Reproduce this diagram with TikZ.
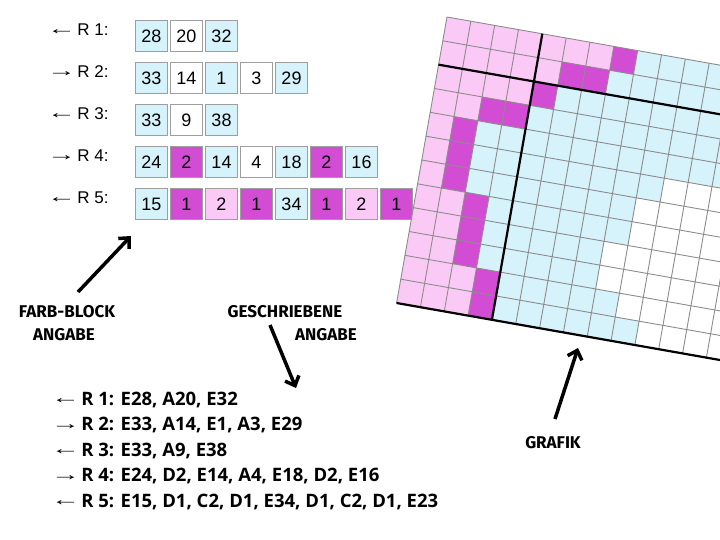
\documentclass[tikz,border=0pt]{standalone}
\usepackage{graphicx}
\usepackage{fontspec}
\setmainfont{Liberation Sans}
\newfontfamily\listfont{Open Sans}
\newfontfamily\handfont{Fira Sans}
\usetikzlibrary{positioning}
\usetikzlibrary{arrows.meta}
\definecolor{colA}{RGB}{255,255,255}
\definecolor{colC}{RGB}{251,201,246}
\definecolor{colD}{RGB}{211,76,212}
\definecolor{colE}{RGB}{214,242,250}
\newcommand{\rowdir}[1]{{\normalfont\fontsize{17}{17}\selectfont\raisebox{1.5pt}{\scalebox{1.7}[1]{#1}}}\kern-3.5pt}
\tikzset{box/.style={draw=black!38,fill=#1,line width=0.8pt,minimum width=32pt,minimum height=31pt,inner sep=0pt,font=\fontsize{18}{18}\selectfont},
         rowlabel/.style={anchor=base west,inner sep=0pt,font=\fontsize{17}{17}\selectfont},
         listline/.style={anchor=base west,inner sep=0pt,font=\listfont\bfseries\fontsize{18.5}{18.5}\selectfont},
         handtext/.style={anchor=base,inner sep=0pt,font=\handfont\bfseries\fontsize{17}{17}\selectfont},
         pointer/.style={line width=3.5pt,-{Straight Barb[length=8pt,width=15pt]}},
         gridline/.style={draw=black!45,line width=0.9pt},
         gridthick/.style={draw=black,line width=2.2pt},
         }

\begin{document}
\begin{tikzpicture}[x=1pt,y=-1pt]
		\useasboundingbox (0,0) rectangle (720,540);
		% colour blocks, one row per line
		\foreach \d/\y/\row [count=\r] in {←/36/{28/colE,20/colA,32/colE},
		                                  →/78/{33/colE,14/colA,1/colE,3/colA,29/colE},
		                                  ←/120/{33/colE,9/colA,38/colE},
		                                  →/162/{24/colE,2/colD,14/colE,4/colA,18/colE,2/colD,16/colE},
		                                  ←/204/{15/colE,1/colD,2/colC,1/colD,34/colE,1/colD,2/colC,1/colD}}{
			\node[rowlabel] (lab\r) at (47,\y) {\rowdir{\d}\ R \r:};
			\foreach \v/\c [count=\i] in \row
				\node[box=\c] (r\r-\i) at ({116.5+35*\i},\y) {\v};
		}
		% chart
		\begin{scope}
		\clip (0,0) rectangle (720,540);
		\begin{scope}[shift={(447,17)},rotate=-10,x=24.2pt,y=-24.2pt]
			\foreach \r/\p/\m/\w in {0/7/1/14,1/5/2/14,2/4/1/14,3/2/2/14,4/1/1/14,5/1/1/10,
			                         6/1/1/9,7/2/1/9,8/2/1/8,9/2/1/8,10/3/1/9,11/3/1/10}{
				\fill[colC] (0,\r) rectangle (\p,{\r+1});
				\fill[colD] (\p,\r) rectangle ({\p+\m},{\r+1});
				\fill[colE] ({\p+\m},\r) rectangle (\w,{\r+1});
			}
			\foreach \i in {0,...,14} \draw[gridline] (\i,0) -- (\i,12);
			\foreach \j in {0,...,12} \draw[gridline] (0,\j) -- (14,\j);
			\draw[gridthick] (4,0) -- (4,12) (0,2) -- (14,2) (0,12) -- (14,12);
		\end{scope}
		\end{scope}
		% written rows
		\foreach \d/\txt [count=\r] in {←/{E28, A20, E32},
		                               →/{E33, A14, E1, A3, E29},
		                               ←/{E33, A9, E38},
		                               →/{E24, D2, E14, A4, E18, D2, E16},
		                               ←/{E15, D1, C2, D1, E34, D1, C2, D1, E23}}
			\node[listline] (line\r) at (51,{379.5+25.5*\r}) {\rowdir{\d}\ R \r: \txt};
		% captions
		\node[handtext] (farb) at (67,317) {FARB-BLOCK};
		\node[handtext] (farb2) at (64,340) {ANGABE};
		\node[handtext] (gesch) at (285,317) {GESCHRIEBENE};
		\node[handtext] (gesch2) at (326,340) {ANGABE};
		\node[handtext] (grafik) at (553,448) {GRAFIK};
		\coordinate (farbtail) at (78,292);
		\coordinate (farbtip) at (131,236);
		\coordinate (geschtail) at (270,325);
		\coordinate (geschtip) at (296,388);
		\coordinate (grafiktail) at (555,419);
		\coordinate (grafiktip) at (578,348);
		\draw[pointer] (farbtail) -- (farbtip);
		\draw[pointer] (geschtail) -- (geschtip);
		\draw[pointer] (grafiktail) -- (grafiktip);
\end{tikzpicture}
\end{document}
